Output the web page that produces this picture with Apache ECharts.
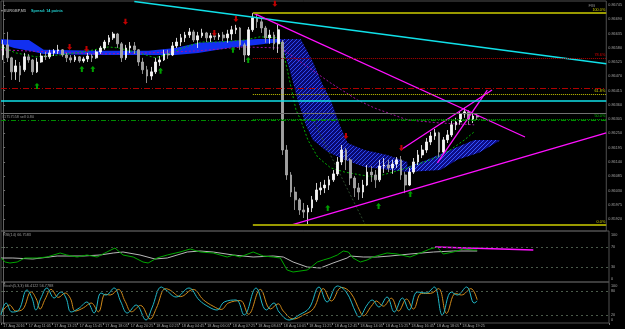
<!DOCTYPE html>
<html><head><meta charset="utf-8">
<script src="https://cdn.jsdelivr.net/npm/echarts@6/dist/echarts.min.js"></script>
<style>html,body{margin:0;padding:0;background:#000;}#c{width:625px;height:329px;}</style>
</head><body><div id="c"></div><script>
const timeLabels = ["17 Aug 2016","17 Aug 11:05","17 Aug 13:25","17 Aug 15:45","17 Aug 18:05","17 Aug 20:25","18 Aug 02:25","18 Aug 04:45","18 Aug 06:05","18 Aug 07:25","18 Aug 08:45","18 Aug 10:05","18 Aug 11:25","18 Aug 12:45","18 Aug 14:05","18 Aug 15:25","18 Aug 16:45","18 Aug 18:05","18 Aug 19:25"];
const priceTicks = [0.86745,0.86690,0.86635,0.86580,0.86525,0.86470,0.86415,0.86360,0.86305,0.86250,0.86195,0.86140,0.86085,0.86030,0.85975,0.85920];
const rsiTicks = [0,30,70,100];
const stochTicks = [0,20,80,100];

const opens = [0.86552,0.86591,0.86541,0.86487,0.86510,0.86495,0.86545,0.86533,0.86487,0.86525,0.86548,0.86545,0.86560,0.86568,0.86572,0.86552,0.86541,0.86533,0.86545,0.86529,0.86537,0.86548,0.86541,0.86564,0.86579,0.86602,0.86618,0.86633,0.86595,0.86541,0.86579,0.86587,0.86572,0.86525,0.86495,0.86471,0.86487,0.86525,0.86533,0.86556,0.86552,0.86587,0.86602,0.86618,0.86629,0.86641,0.86610,0.86626,0.86637,0.86618,0.86626,0.86622,0.86629,0.86618,0.86633,0.86649,0.86656,0.86591,0.86552,0.86649,0.86695,0.86680,0.86656,0.86618,0.86629,0.86595,0.86602,0.86186,0.86090,0.86024,0.85994,0.85955,0.85947,0.85963,0.85994,0.86032,0.86040,0.86051,0.86071,0.86094,0.86140,0.86186,0.86148,0.86078,0.86040,0.86024,0.86051,0.86101,0.86090,0.86071,0.86124,0.86128,0.86117,0.86132,0.86148,0.86090,0.86051,0.86101,0.86140,0.86167,0.86186,0.86217,0.86240,0.86252,0.86178,0.86225,0.86244,0.86283,0.86294,0.86325,0.86333,0.86302,0.86317];
const closes = [0.86591,0.86541,0.86487,0.86510,0.86475,0.86545,0.86533,0.86487,0.86525,0.86548,0.86545,0.86560,0.86568,0.86572,0.86552,0.86541,0.86533,0.86545,0.86529,0.86537,0.86548,0.86541,0.86564,0.86579,0.86602,0.86618,0.86633,0.86595,0.86541,0.86579,0.86587,0.86572,0.86525,0.86495,0.86471,0.86487,0.86525,0.86533,0.86556,0.86552,0.86587,0.86602,0.86618,0.86629,0.86641,0.86610,0.86626,0.86637,0.86618,0.86626,0.86622,0.86629,0.86618,0.86633,0.86649,0.86656,0.86591,0.86552,0.86649,0.86695,0.86680,0.86656,0.86618,0.86629,0.86595,0.86649,0.86186,0.86090,0.86024,0.85994,0.85955,0.85947,0.85963,0.85994,0.86032,0.86040,0.86051,0.86071,0.86094,0.86140,0.86186,0.86148,0.86078,0.86040,0.86024,0.86051,0.86101,0.86090,0.86071,0.86124,0.86128,0.86117,0.86132,0.86148,0.86090,0.86051,0.86101,0.86140,0.86167,0.86186,0.86217,0.86240,0.86252,0.86178,0.86225,0.86244,0.86283,0.86294,0.86325,0.86333,0.86302,0.86317,0.86313];
const highs = [0.86610,0.86641,0.86545,0.86533,0.86525,0.86560,0.86556,0.86537,0.86541,0.86560,0.86564,0.86572,0.86575,0.86591,0.86575,0.86560,0.86552,0.86552,0.86548,0.86545,0.86560,0.86556,0.86572,0.86587,0.86610,0.86629,0.86641,0.86637,0.86602,0.86591,0.86602,0.86602,0.86575,0.86541,0.86510,0.86506,0.86541,0.86548,0.86572,0.86572,0.86602,0.86618,0.86633,0.86641,0.86656,0.86649,0.86641,0.86653,0.86641,0.86637,0.86637,0.86637,0.86641,0.86649,0.86664,0.86668,0.86660,0.86599,0.86660,0.86714,0.86710,0.86695,0.86664,0.86649,0.86641,0.86668,0.86610,0.86205,0.86101,0.86044,0.86001,0.85982,0.85974,0.86009,0.86059,0.86063,0.86071,0.86086,0.86109,0.86159,0.86205,0.86194,0.86155,0.86086,0.86059,0.86071,0.86128,0.86124,0.86109,0.86148,0.86155,0.86148,0.86148,0.86159,0.86163,0.86101,0.86117,0.86155,0.86186,0.86205,0.86232,0.86256,0.86267,0.86256,0.86236,0.86263,0.86302,0.86310,0.86333,0.86348,0.86340,0.86329,0.86325];
const lows = [0.86533,0.86525,0.86456,0.86456,0.86448,0.86487,0.86522,0.86475,0.86483,0.86522,0.86533,0.86537,0.86548,0.86556,0.86545,0.86525,0.86522,0.86525,0.86522,0.86522,0.86525,0.86525,0.86537,0.86556,0.86572,0.86591,0.86610,0.86579,0.86525,0.86533,0.86560,0.86556,0.86510,0.86479,0.86444,0.86456,0.86479,0.86510,0.86529,0.86537,0.86548,0.86579,0.86587,0.86602,0.86618,0.86602,0.86579,0.86618,0.86602,0.86602,0.86610,0.86610,0.86606,0.86599,0.86610,0.86633,0.86572,0.86525,0.86548,0.86641,0.86656,0.86637,0.86599,0.86595,0.86572,0.86560,0.86167,0.86071,0.86005,0.85955,0.85936,0.85924,0.85897,0.85947,0.85986,0.86013,0.86020,0.86032,0.86063,0.86086,0.86128,0.86109,0.86051,0.86005,0.85994,0.86001,0.86047,0.86063,0.86040,0.86063,0.86098,0.86101,0.86094,0.86117,0.86071,0.86020,0.86047,0.86094,0.86128,0.86155,0.86175,0.86205,0.86225,0.86159,0.86171,0.86213,0.86236,0.86263,0.86283,0.86310,0.86283,0.86290,0.86302];

const fastMA = [[-0.5,0.86583],[3.0,0.86560],[7.7,0.86545],[13.2,0.86552],[19.0,0.86564],[24.9,0.86583],[27.3,0.86579],[32.0,0.86560],[36.0,0.86541],[39.7,0.86560],[43.0,0.86583],[46.8,0.86602],[50.8,0.86602],[57.2,0.86610],[60.7,0.86622],[64.9,0.86618],[66.1,0.86572],[69.2,0.86340],[70.3,0.86302],[72.0,0.86225],[74.3,0.86159],[77.4,0.86117],[80.7,0.86101],[84.4,0.86090],[87.7,0.86082],[91.5,0.86098],[95.5,0.86117],[99.5,0.86140],[102.6,0.86159],[105.6,0.86186],[109.0,0.86225],[111.3,0.86256]];
const slowMA = [[-0.5,0.86572],[10.8,0.86564],[22.6,0.86556],[34.3,0.86560],[46.1,0.86568],[56.7,0.86583],[65.6,0.86579],[69.6,0.86533],[77.4,0.86444],[83.7,0.86379],[87.7,0.86348],[95.5,0.86302],[103.3,0.86290],[111.3,0.86283]];
const darkLine = [[73.2,0.86302],[85.6,0.85897]];

const leftCloudUp = [[-0.5,0.86614],[2.6,0.86610],[6.1,0.86610],[9.6,0.86572],[22.6,0.86568],[34.3,0.86568],[40.7,0.86579],[46.1,0.86599],[53.2,0.86606],[60.2,0.86614],[65.6,0.86614]];
const leftCloudLo = [[-0.5,0.86595],[2.6,0.86579],[6.1,0.86568],[9.6,0.86556],[22.6,0.86552],[34.3,0.86552],[40.7,0.86552],[46.1,0.86560],[53.2,0.86579],[60.2,0.86591],[65.6,0.86602]];
const descCloudUp = [[65.6,0.86614],[70.3,0.86614],[73.2,0.86525],[75.5,0.86437],[77.4,0.86379],[79.5,0.86283],[81.4,0.86213],[85.4,0.86186],[90.8,0.86167],[95.5,0.86140]];
const descCloudLo = [[65.6,0.86602],[67.7,0.86495],[69.6,0.86379],[71.5,0.86283],[73.2,0.86225],[76.7,0.86178],[80.7,0.86148],[85.4,0.86121],[95.5,0.86101]];
const rightCloudUp = [[95.5,0.86121],[100.2,0.86148],[105.6,0.86186],[111.3,0.86225],[117.2,0.86225]];
const rightCloudLo = [[95.5,0.86101],[103.3,0.86109],[107.3,0.86148],[112.4,0.86175],[117.2,0.86221]];

const cyanTrend = [[31,0.86758],[142.5,0.86518]];
const magA = [[59,0.86714],[123.3,0.86236]];
const magB = [[68,0.85897],[142.5,0.86252]];
const magC = [[93.9,0.86186],[115.5,0.86417]];
const magD = [[102.6,0.86136],[114.4,0.86417]];

const cyanLevel = 0.86375, redLevel = 0.86425, orderLevel = 0.86302, askPrice = 0.86328, bidPrice = 0.86313;
const fibStart = 59;
const fibLevels = [0.86714,0.86539,0.86402,0.86306,0.85897];
const fibNames = ['100.0%','78.6%','61.8%','50.0%','0.0%'];

const redArrows = [[15.7,0.86583],[19.7,0.86575],[28.9,0.86680],[49.9,0.86637],[55.0,0.86691],[64.2,0.86749],[81.0,0.86240],[94.1,0.86194]];
const greenArrows = [[8.0,0.86433],[18.6,0.86498],[21.2,0.86498],[37.2,0.86491],[54.3,0.86572],[57.9,0.86533],[76.7,0.85963],[88.7,0.85970],[96.2,0.86017]];

const rsiMain = [[-0.5,48],[0.5,40],[1.6,38],[3.3,40],[5.1,48],[8,48],[10.3,50],[13.4,58],[15,54],[17.4,50],[19.7,54],[22.1,50],[24.4,60],[26.3,68],[28.2,54],[30.6,50],[32.9,40],[34.1,38],[36.2,48],[38.6,54],[41.6,60],[44,66],[46.4,60],[49.4,58],[52.7,50],[54.1,54],[55.7,50],[58.8,60],[61.2,52],[63.5,50],[65.2,48],[66.8,24],[68.2,20],[71.5,24],[72.2,28],[73.9,40],[75.3,44],[76.9,48],[78.6,54],[80,62],[81.2,60],[82.3,48],[84,40],[85.6,44],[87,50],[90.3,58],[92.7,56],[95.7,50],[98.1,58],[100.4,66],[102.1,70],[103.5,56],[105.9,60],[108.2,66],[110.6,64],[111.5,64]];
const rsiSignal = [[-0.5,48],[2.3,48],[7,46],[12.7,52],[18.8,52],[22.8,54],[25.9,58],[28.2,60],[32.2,54],[35.7,46],[38.6,48],[43.3,60],[46.3,62],[49.4,60],[54.1,54],[58.8,50],[63.5,52],[65.9,50],[68.2,40],[71.5,30],[74.6,28],[77.6,38],[80.9,48],[81.6,52],[84.7,50],[88,50],[91,52],[95.7,56],[101.2,60],[105.9,62],[111.5,62]];
const rsiTrend = [[101.6,70],[124.7,64]];

const stochMain = [[-0.5,20],[0.7,50],[2.1,27.5],[3.7,32.5],[5.6,82.5],[6.8,62.5],[7.7,32.5],[8.9,62.5],[10.3,87.5],[12,62.5],[13.6,77.5],[14.8,62.5],[16,27.5],[17.9,37.5],[19.7,52.5],[21.4,25],[23,75],[24.2,70],[26.1,87.5],[27.7,52.5],[29.2,25],[31.3,45],[33.6,7.5],[35,37.5],[37.2,90],[38.3,82.5],[40.7,65],[43.7,87.5],[46.1,57.5],[48.4,40],[50.3,32.5],[52,52.5],[54.8,57.5],[56.7,20],[59.5,87.5],[61.9,32.5],[63.7,50],[64.9,27.5],[67.3,7.5],[69.6,20],[72,37.5],[74.3,90],[76.2,52.5],[78.6,92.5],[80.7,77.5],[83,25],[83.7,15],[85.6,45],[86.8,57.5],[88.4,40],[90.3,65],[92,27.5],[93.9,62.5],[95.5,32.5],[97.4,77.5],[99.5,75],[101.4,90],[103.3,20],[105.4,77.5],[106.8,70],[109,90],[110.8,50],[111.5,55]];
const stochSignal = [[-0.5,24],[1.5,45],[3,30],[4.6,34],[6.6,78],[7.8,60],[8.7,35],[9.9,60],[11.3,84],[13,64],[14.6,75],[15.8,62],[17,30],[18.9,38],[20.7,50],[22.4,28],[24,72],[25.2,70],[27.1,84],[28.7,54],[30.2,28],[32.3,44],[34.6,10],[36,36],[38.2,86],[39.3,82],[41.7,66],[44.7,84],[47.1,58],[49.4,42],[51.3,34],[53,50],[55.8,56],[57.7,22],[60.5,84],[62.9,35],[64.7,48],[65.9,30],[68.3,10],[70.6,20],[73,36],[75.3,86],[77.2,55],[79.6,89],[81.7,76],[84,28],[84.7,18],[86.6,42],[87.8,55],[89.4,42],[91.3,62],[93,30],[94.9,60],[96.5,35],[98.4,74],[100.5,74],[102.4,86],[104.3,24],[106.4,74],[107.8,70],[110,86],[111.5,58]];

const N = 143;
const FONT = 'Liberation Sans, DejaVu Sans, sans-serif';
const FS = 3.8;
const cats = []; for (let i = 0; i < N; i++) cats.push(String(i));
const candleData = opens.map((o, i) => [o, closes[i], lows[i], highs[i]]);

function hatch(bg, fg) {
  const c = document.createElement('canvas'); c.width = 4; c.height = 4;
  const g = c.getContext('2d'); g.fillStyle = bg; g.fillRect(0, 0, 4, 4);
  g.strokeStyle = fg; g.lineWidth = 1; g.beginPath(); g.moveTo(0, 4); g.lineTo(4, 0); g.stroke();
  return { image: c, repeat: 'repeat' };
}
const hatchDesc = hatch('#0a0a70', '#2c48f0');
const hatchRight = hatch('#0e0e88', '#3656ff');

const chart = echarts.init(document.getElementById('c'));
const vx = (gi) => ({ type: 'value', gridIndex: gi, min: -0.5, max: 142.5, show: false });
const lvlLine = (y0, x0, color, type, width) => [{ coord: [x0, y0], lineStyle: { color, type, width } }, { coord: [142.5, y0] }];

const fibColors = ['#9a9a00', '#b00000', '#c8c800', '#00a000', '#9a9a00'];
const fibLabelColors = ['#d0d000', '#e00000', '#d0d000', '#00c000', '#d0d000'];
const fibTypes = ['solid', 'dotted', 'dotted', 'dotted', 'solid'];
const fibWidths = [2, 1, 1, 1, 2];

const markData = [
  lvlLine(cyanLevel, -0.5, '#10e0e8', 'solid', 1.5),
  lvlLine(redLevel, -0.5, '#b00000', [6, 2, 1, 2], 1),
  lvlLine(askPrice, -0.5, '#707070', 'solid', 1),
];
const ol = lvlLine(orderLevel, -0.5, '#008a00', [5, 2, 1, 2], 1);
ol[0].label = { show: true, position: 'insideStartTop', formatter: '#1757558 sell 0.80', fontSize: FS, color: '#909090', fontFamily: FONT, distance: 1 };
markData.push(ol);
fibLevels.forEach((lv, k) => {
  const l = lvlLine(lv, fibStart, fibColors[k], fibTypes[k], fibWidths[k]);
  l[0].label = { show: true, position: 'insideEndTop', formatter: fibNames[k], fontSize: FS, color: fibLabelColors[k], fontFamily: FONT, distance: 1 };
  markData.push(l);
});

const arrowDown = 'path://M3,0H7V6H10L5,11L0,6H3Z';
const arrowUp = 'path://M5,0L10,5H7V11H3V5H0Z';

const option = {
  backgroundColor: '#000',
  animation: false,
  title: [
    { text: '{a|▾ EURGBP,M5} {b|Spread: 14 points}', left: 1, top: 2, padding: 0,
      textStyle: { rich: { a: { fontSize: FS, color: '#9a9a9a', fontFamily: FONT }, b: { fontSize: FS, color: '#20d0d0', fontFamily: FONT } } } },
    { text: 'FIB', right: 30, top: 4, padding: 0, textStyle: { fontSize: 4.2, color: '#8a8a8a', fontFamily: FONT, fontWeight: 'normal' } },
    { text: 'RSI(14) 66.7583', left: 3, top: 233, padding: 0, textStyle: { fontSize: FS, color: '#9a9a9a', fontFamily: FONT, fontWeight: 'normal' } },
    { text: 'Stoch(5,3,3) 66.4122 56.7788', left: 3, top: 284, padding: 0, textStyle: { fontSize: FS, color: '#9a9a9a', fontFamily: FONT, fontWeight: 'normal' } }
  ],
  grid: [
    { left: 1, right: 16, top: 1, height: 230, show: true, borderColor: '#505050', borderWidth: 1, backgroundColor: 'transparent' },
    { left: 1, right: 16, top: 231, height: 51, show: true, borderColor: '#505050', borderWidth: 1, backgroundColor: 'transparent' },
    { left: 1, right: 16, top: 282, height: 41, show: true, borderColor: '#505050', borderWidth: 1, backgroundColor: 'transparent' }
  ],
  xAxis: [
    { type: 'category', gridIndex: 0, data: cats, show: false },
    vx(0),
    vx(1),
    { type: 'category', gridIndex: 2, data: cats, position: 'bottom',
      axisLine: { show: false },
      axisTick: { show: true, interval: (i) => i % 6 === 0 && i / 6 < timeLabels.length, length: 2, lineStyle: { color: '#707070' } },
      axisLabel: { interval: 0, align: 'left', margin: 1, fontSize: FS, color: '#a0a0a0', fontFamily: FONT,
        formatter: (v, i) => (i % 6 === 0 && i / 6 < timeLabels.length) ? timeLabels[i / 6] : '' } },
    vx(2)
  ],
  yAxis: [
    { type: 'value', gridIndex: 0, position: 'right', min: 0.85874, max: 0.86760, scale: true,
      axisLine: { show: true, lineStyle: { color: '#606060' } },
      axisTick: { show: true, customValues: priceTicks, length: 2, lineStyle: { color: '#707070' } },
      axisLabel: { customValues: priceTicks, formatter: (v) => v.toFixed(5), fontSize: FS, color: '#a0a0a0', fontFamily: FONT, margin: 2 },
      splitLine: { show: false } },
    { type: 'value', gridIndex: 1, position: 'right', min: 0, max: 102,
      axisLine: { show: true, lineStyle: { color: '#606060' } },
      axisTick: { show: true, customValues: rsiTicks, length: 2, lineStyle: { color: '#707070' } },
      axisLabel: { customValues: rsiTicks, margin: 2, fontSize: FS, color: '#a0a0a0', fontFamily: FONT,
        formatter: (v) => v === 100 ? '{t|100}' : (v === 0 ? '{b|0}' : String(v)),
        rich: { t: { fontSize: FS, color: '#a0a0a0', fontFamily: FONT, padding: [6, 0, 0, 0] }, b: { fontSize: FS, color: '#a0a0a0', fontFamily: FONT, padding: [0, 0, 7, 0] } } },
      splitLine: { show: false } },
    { type: 'value', gridIndex: 2, position: 'right', min: 0, max: 102.5,
      axisLine: { show: true, lineStyle: { color: '#606060' } },
      axisTick: { show: true, customValues: stochTicks, length: 2, lineStyle: { color: '#707070' } },
      axisLabel: { customValues: stochTicks, margin: 2, fontSize: FS, color: '#a0a0a0', fontFamily: FONT,
        formatter: (v) => v === 100 ? '{t|100}' : (v === 0 ? '{b|0}' : String(v)),
        rich: { t: { fontSize: FS, color: '#a0a0a0', fontFamily: FONT, padding: [5, 0, 0, 0] }, b: { fontSize: FS, color: '#a0a0a0', fontFamily: FONT, padding: [0, 0, 6, 0] } } },
      splitLine: { show: false } }
  ],
  series: [
    { type: 'custom', xAxisIndex: 1, yAxisIndex: 0, z: 1, silent: true, data: [[0, 0.863]],
      renderItem: (params, api) => {
        const poly = (up, lo) => up.map(p => api.coord(p)).concat(lo.slice().reverse().map(p => api.coord(p)));
        return { type: 'group', children: [
          { type: 'polygon', shape: { points: poly(leftCloudUp, leftCloudLo) }, style: { fill: '#1230f0' } },
          { type: 'polygon', shape: { points: poly(descCloudUp, descCloudLo) }, style: { fill: hatchDesc } },
          { type: 'polygon', shape: { points: poly(rightCloudUp, rightCloudLo) }, style: { fill: hatchRight } }
        ] };
      } },
    { type: 'line', xAxisIndex: 1, yAxisIndex: 0, z: 2, data: slowMA, showSymbol: false, lineStyle: { color: '#a010a0', width: 1, type: [2, 2] } },
    { type: 'line', xAxisIndex: 1, yAxisIndex: 0, z: 2, data: fastMA, showSymbol: false, lineStyle: { color: '#00b000', width: 1, type: [2, 2] } },
    { type: 'line', xAxisIndex: 1, yAxisIndex: 0, z: 2, data: darkLine, showSymbol: false, lineStyle: { color: '#2c4a2c', width: 1, type: [2, 2] } },
    { type: 'candlestick', xAxisIndex: 0, yAxisIndex: 0, z: 3, data: candleData, barWidth: 2.2,
      itemStyle: { color: '#f4f4f4', color0: '#a0a0a0', borderColor: '#ffffff', borderColor0: '#b0b0b0', borderWidth: 0.8 },
      markLine: { silent: true, symbol: ['none', 'none'], label: { show: false },
        data: [
          [{ coord: [0, bidPrice], lineStyle: { opacity: 0 } , label: { show: false } }, { coord: [142, bidPrice], label: { show: true, position: 'end', distance: 2, formatter: bidPrice.toFixed(5), fontSize: FS, color: '#000', backgroundColor: '#b8b8b8', padding: [0, 1], fontFamily: FONT } }],
          [{ coord: [0, askPrice], lineStyle: { opacity: 0 } }, { coord: [142, askPrice], label: { show: true, position: 'end', distance: 2, formatter: askPrice.toFixed(5), fontSize: FS, color: '#000', backgroundColor: '#d0d0d0', padding: [0, 1], fontFamily: FONT } }]
        ] } },
    { type: 'line', xAxisIndex: 1, yAxisIndex: 0, z: 4, data: cyanTrend, showSymbol: false, lineStyle: { color: '#10e0e8', width: 1.5 },
      markLine: { silent: true, symbol: ['none', 'none'], label: { show: false }, data: markData } },
    { type: 'line', xAxisIndex: 1, yAxisIndex: 0, z: 4, data: magA, showSymbol: false, lineStyle: { color: '#ff10ff', width: 1.3 } },
    { type: 'line', xAxisIndex: 1, yAxisIndex: 0, z: 4, data: magB, showSymbol: false, lineStyle: { color: '#ff10ff', width: 1.3 } },
    { type: 'line', xAxisIndex: 1, yAxisIndex: 0, z: 4, data: magC, showSymbol: false, lineStyle: { color: '#ff10ff', width: 1.3 } },
    { type: 'line', xAxisIndex: 1, yAxisIndex: 0, z: 4, data: magD, showSymbol: false, lineStyle: { color: '#ff10ff', width: 1.3 } },
    { type: 'scatter', xAxisIndex: 1, yAxisIndex: 0, z: 5, data: redArrows, symbol: arrowDown, symbolSize: [5, 6], itemStyle: { color: '#c00000', opacity: 1 } },
    { type: 'scatter', xAxisIndex: 1, yAxisIndex: 0, z: 5, data: greenArrows, symbol: arrowUp, symbolSize: [5, 6], itemStyle: { color: '#00a000', opacity: 1 } },

    { type: 'line', xAxisIndex: 2, yAxisIndex: 1, data: rsiSignal, showSymbol: false, lineStyle: { color: '#b8b8b8', width: 1 },
      markLine: { silent: true, symbol: ['none', 'none'], label: { show: false }, lineStyle: { color: '#4a5a4a', type: [2, 3], width: 1 }, data: [{ yAxis: 70 }, { yAxis: 30 }] } },
    { type: 'line', xAxisIndex: 2, yAxisIndex: 1, data: rsiMain, showSymbol: false, lineStyle: { color: '#00a800', width: 1 } },
    { type: 'line', xAxisIndex: 2, yAxisIndex: 1, data: rsiTrend, showSymbol: false, lineStyle: { color: '#ff10ff', width: 1.5 } },

    { type: 'line', xAxisIndex: 4, yAxisIndex: 2, data: stochSignal, showSymbol: false, smooth: 0.4, lineStyle: { color: '#d08a1a', width: 1 },
      markLine: { silent: true, symbol: ['none', 'none'], label: { show: false }, lineStyle: { color: '#4a5a4a', type: [2, 3], width: 1 }, data: [{ yAxis: 80 }, { yAxis: 20 }] } },
    { type: 'line', xAxisIndex: 4, yAxisIndex: 2, data: stochMain, showSymbol: false, smooth: 0.4, lineStyle: { color: '#20b8c8', width: 1 } }
  ]
};
chart.setOption(option);
</script></body></html>
